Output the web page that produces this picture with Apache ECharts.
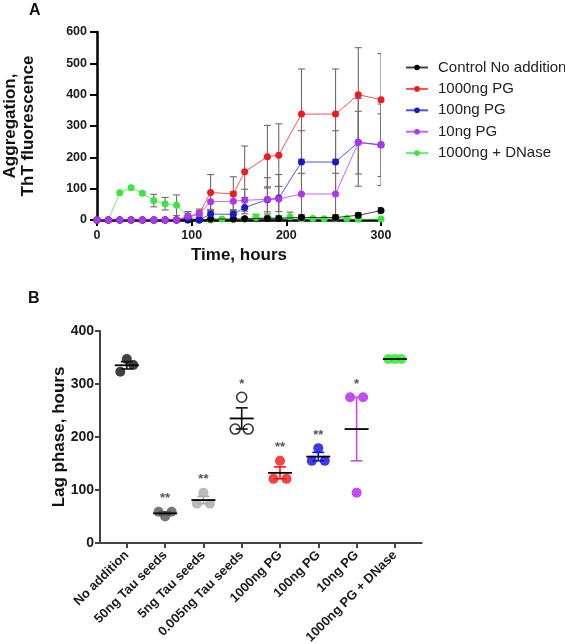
<!DOCTYPE html>
<html><head><meta charset="utf-8">
<script src="https://cdn.jsdelivr.net/npm/echarts@6/dist/echarts.min.js"></script>
<style>html,body{margin:0;padding:0;background:#fff}#c{width:565px;height:644px}</style>
</head><body><div id="c"></div>
<script>
// ---------- Panel A data ----------
const timesA = [0,12,24,36,48,60,72,84,96,108,120,132,144,156,168,180,192,204,216,228,240,252,264,276,300];
const controlA = [0,0,0,0,0,0,0,0,0,0,3,null,3,4,null,5,5,null,8,null,null,8,null,15,30];
const pg1000A  = [0,0,0,0,0,0,0,0,8,20,88,null,83,154,null,202,207,null,338,null,null,338,null,400,384];
const pg100A   = [0,0,0,0,0,0,0,0,5,0,19,null,18,40,null,65,70,null,185,null,null,185,null,248,240];
const pg10A    = [0,0,0,0,0,0,0,0,12,20,58,null,60,63,null,66,67,null,83,null,null,83,null,247,239];
const dnaseA   = [0,0,87,103,85,62,52,47,12,2,0,3,2,3,8,9,6,10,4,5,4,6,5,2,3];
// SEM values (error bars)
const controlSemA = [0,0,0,0,0,0,0,0,0,0,2,null,2,2,null,3,3,null,5,null,null,5,null,8,10];
const pg1000SemA  = [0,0,0,0,0,0,0,0,5,10,57,null,55,82,null,100,100,null,144,null,null,144,null,150,147];
const pg100SemA   = [0,0,0,0,0,0,0,0,0,0,15,null,15,20,null,70,75,null,100,null,null,100,null,140,130];
const pg10SemA    = [0,0,0,0,0,0,0,0,10,15,30,null,30,35,null,40,40,null,66,null,null,66,null,100,100];
const dnaseSemA   = [0,0,0,0,0,20,20,33,15,5,3,0,0,5,10,10,8,15,5,0,3,0,0,0,0];
const namesA = ['Control No addition','1000ng PG','100ng PG','10ng PG','1000ng + DNase'];
const yTicksA = [0,100,200,300,400,500,600];
const xTicksA = [0,100,200,300];

// ---------- Panel B data ----------
const catsB = ['No addition','50ng Tau seeds','5ng Tau seeds','0.005ng Tau seeds','1000ng PG','100ng PG','10ng PG','1000ng PG + DNase'];
const lagB = [[347,323,336],[50,59,59],[95,74,74],[275,215,215],[155,121,121],[179,155,155],[95,275,275],[347,347,347]];
const sigB = ['','**','**','*','**','**','*',''];
const yTicksB = [0,100,200,300,400];

const FONT = 'Arial, "Liberation Sans", sans-serif';
const colA = ['#000000','#ee1c1c','#1818cc','#ae34f0','#3ce43c'];
const colB = ['#111111','#555555','#a9a9a9','#000000','#ee1515','#0c0cdc','#b020f0','#22ee22'];
const errColB = ['#111111','#555555','#a9a9a9','#111111','#ee1515','#0c0cdc','#c050e8','#22ee22'];

const seriesArrA = [controlA,pg1000A,pg100A,pg10A,dnaseA];
const semArrA = [controlSemA,pg1000SemA,pg100SemA,pg10SemA,dnaseSemA];

function pairs(arr){ const out=[]; timesA.forEach((t,i)=>{ if(arr[i]!==null) out.push([t,arr[i]]); }); return out; }
function errPairs(arr,sem){ const out=[]; timesA.forEach((t,i)=>{ if(arr[i]!==null && sem[i]) out.push([t,arr[i],sem[i]]); }); return out; }

const chart = echarts.init(document.getElementById('c'), null, {renderer:'canvas'});
const series = [];
// draw order: green, black, red, blue, purple
const order = [4,0,1,2,3];
order.forEach(k=>{
  series.push({
    type:'custom', xAxisIndex:0, yAxisIndex:0, z:1, silent:true, clip:true,
    data: errPairs(seriesArrA[k], semArrA[k]),
    renderItem:(params,api)=>{
      const t=api.value(0), v=api.value(1), s=api.value(2);
      const top=api.coord([t,v+s]), bot=api.coord([t,Math.max(0,v-s)]);
      const st={stroke:'#7d6464',lineWidth:1.1};
      return {type:'group',children:[
        {type:'line',shape:{x1:top[0],y1:top[1],x2:bot[0],y2:bot[1]},style:st},
        {type:'line',shape:{x1:top[0]-3.5,y1:top[1],x2:top[0]+3.5,y2:top[1]},style:st},
        {type:'line',shape:{x1:bot[0]-3.5,y1:bot[1],x2:bot[0]+3.5,y2:bot[1]},style:st}
      ]};
    }
  });
});
order.forEach((k,j)=>{
  series.push({
    name:namesA[k], type:'line', xAxisIndex:0, yAxisIndex:0, z:3+j,
    data:pairs(seriesArrA[k]), symbol:'circle', symbolSize:7, showSymbol:true,
    lineStyle:{color:colA[k],width:1,opacity:0.75}, itemStyle:{color:colA[k]},
    emphasis:{disabled:true}, animation:false
  });
});

// Panel B
const meanB = lagB.map(a=>a.reduce((s,v)=>s+v,0)/a.length);
const semB = lagB.map((a,i)=>{const m=meanB[i]; const sd=Math.sqrt(a.reduce((s,v)=>s+(v-m)*(v-m),0)/(a.length-1)); return sd/Math.sqrt(a.length);});
const swarm = [0,-1,1];
const SW = 0.17;
const ptsB = [];
lagB.forEach((a,i)=>{
  a.forEach((v,j)=>{
    const open = (i===3);
    ptsB.push({value:[i+swarm[j]*SW, v], itemStyle: open?{color:'#ffffff',borderColor:'#000',borderWidth:1.6}:{color:colB[i]}});
  });
});
series.push({type:'scatter', xAxisIndex:1, yAxisIndex:1, data:ptsB, symbol:'circle', symbolSize:10, z:3, animation:false, emphasis:{disabled:true}});
series.push({
  type:'custom', xAxisIndex:1, yAxisIndex:1, z:5, silent:true,
  data: meanB.map((m,i)=>[i,m,semB[i]]),
  renderItem:(params,api)=>{
    const i=api.value(0), m=api.value(1), s=api.value(2);
    const c=api.coord([i,m]), hi=api.coord([i,m+s]), lo=api.coord([i,m-s]);
    const ec=errColB[i];
    const st={stroke:ec,lineWidth:1.6};
    return {type:'group',children:[
      {type:'line',shape:{x1:hi[0],y1:hi[1],x2:lo[0],y2:lo[1]},style:st},
      {type:'line',shape:{x1:hi[0]-6,y1:hi[1],x2:hi[0]+6,y2:hi[1]},style:st},
      {type:'line',shape:{x1:lo[0]-6,y1:lo[1],x2:lo[0]+6,y2:lo[1]},style:st},
      {type:'line',shape:{x1:c[0]-12,y1:c[1],x2:c[0]+12,y2:c[1]},style:{stroke:'#000',lineWidth:1.8}}
    ]};
  }
});
series.push({
  type:'custom', xAxisIndex:1, yAxisIndex:1, z:6, silent:true,
  data: lagB.map((a,i)=>[i,Math.max(...a)]),
  renderItem:(params,api)=>{
    const i=api.value(0), mx=api.value(1);
    const p=api.coord([i,mx]);
    return {type:'text', x:p[0], y:p[1]-13, style:{text:sigB[i], fill:'#555', font:'bold 13px '+FONT, align:'center', verticalAlign:'middle'}};
  }
});

const labelA = {fontFamily:FONT, fontWeight:'bold', fontSize:12.5, color:'#1a1a1a'};
const option = {
  animation:false,
  backgroundColor:'#fff',
  legend:{
    orient:'vertical', left:400, top:55, itemWidth:22, itemHeight:7, itemGap:6.4,
    data:namesA, selectedMode:false,
    textStyle:{fontFamily:FONT, fontSize:15, color:'#222', padding:[0,0,0,5]}
  },
  grid:[
    {left:97, right:184, top:32, bottom:424, containLabel:false, outerBoundsMode:'none'},
    {left:100, right:143.3, top:331, bottom:101, containLabel:false, outerBoundsMode:'none'}
  ],
  xAxis:[
    {gridIndex:0, type:'value', min:0, max:300, interval:100,
     name:'Time, hours', nameLocation:'middle', nameGap:27, nameMoveOverlap:false,
     nameTextStyle:{fontFamily:FONT, fontWeight:'bold', fontSize:17, color:'#111'},
     axisLine:{lineStyle:{color:'#000', width:2.5}},
     axisTick:{show:true, length:6, lineStyle:{color:'#000', width:2}},
     axisLabel:Object.assign({margin:9}, labelA), splitLine:{show:false}},
    {gridIndex:1, type:'value', min:-0.7, max:7.7,
     axisLine:{onZero:false, lineStyle:{color:'#444', width:2}},
     axisTick:{show:true, length:5, customValues:[0,1,2,3,4,5,6,7], lineStyle:{color:'#444', width:2}},
     axisLabel:{customValues:[0,1,2,3,4,5,6,7], formatter:v=>catsB[Math.round(v)], rotate:45, margin:10,
       fontFamily:FONT, fontWeight:'bold', fontSize:13, color:'#1a1a1a'},
     splitLine:{show:false}}
  ],
  yAxis:[
    {gridIndex:0, type:'value', min:0, max:600, interval:100,
     name:'Aggregation,\nThT fluorescence', nameLocation:'middle', nameGap:60, nameMoveOverlap:false,
     nameTextStyle:{fontFamily:FONT, fontWeight:'bold', fontSize:17, color:'#111', lineHeight:18},
     axisLine:{show:true, lineStyle:{color:'#000', width:2.5}},
     axisTick:{show:true, length:7, lineStyle:{color:'#000', width:2}},
     axisLabel:Object.assign({margin:10}, labelA), splitLine:{show:false}},
    {gridIndex:1, type:'value', min:0, max:400, interval:100,
     name:'Lag phase, hours', nameLocation:'middle', nameGap:32, nameMoveOverlap:false,
     nameTextStyle:{fontFamily:FONT, fontWeight:'bold', fontSize:17, color:'#111'},
     axisLine:{show:true, onZero:false, lineStyle:{color:'#444', width:2}},
     axisTick:{show:true, length:5, lineStyle:{color:'#444', width:2}},
     axisLabel:{margin:6, fontFamily:FONT, fontWeight:'bold', fontSize:14, color:'#1a1a1a'},
     splitLine:{show:false}}
  ],
  graphic:[
    {type:'text', left:29, top:3, style:{text:'A', font:'bold 16px '+FONT, fill:'#111'}},
    {type:'text', left:28, top:291, style:{text:'B', font:'bold 16px '+FONT, fill:'#111'}}
  ],
  series:series
};
chart.setOption(option);
</script>
</body></html>
